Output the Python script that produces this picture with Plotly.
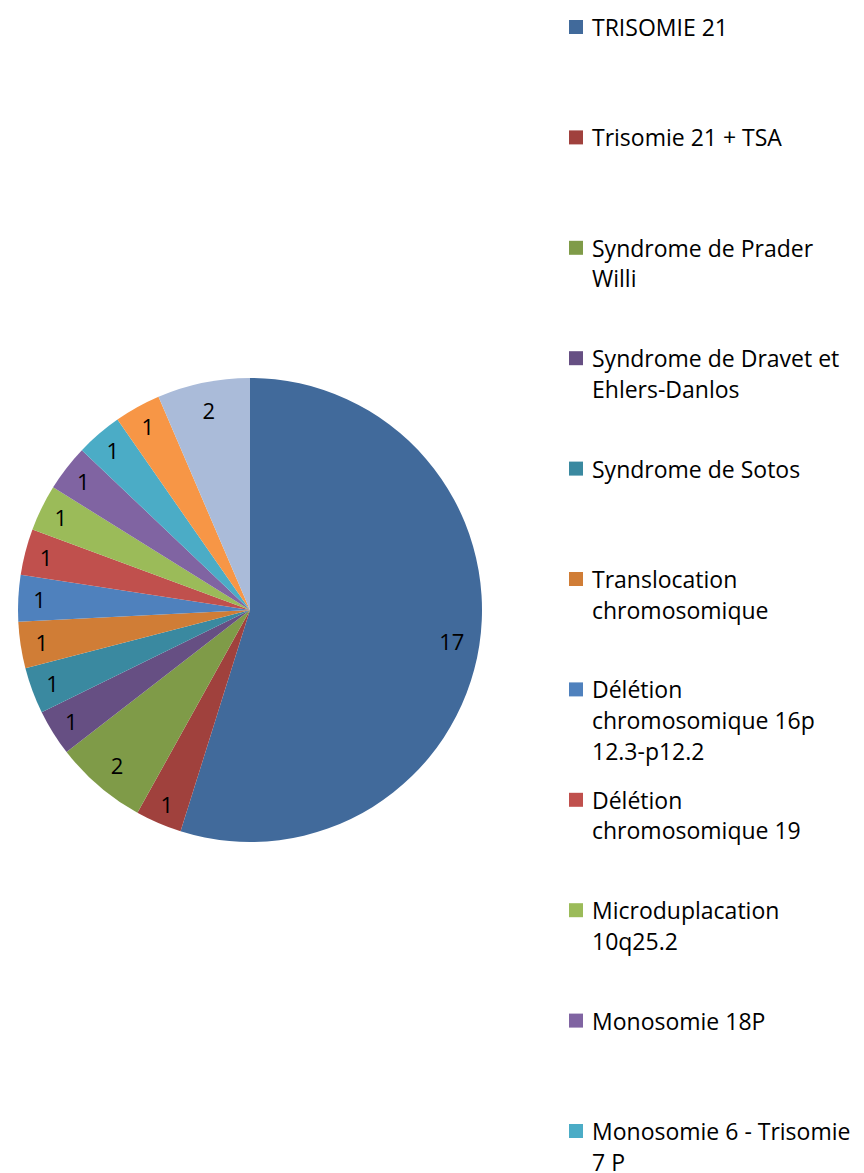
import plotly.graph_objects as go

labels = [
    "TRISOMIE 21",
    "Trisomie 21 + TSA",
    "Syndrome de Prader Willi",
    "Syndrome de Dravet et Ehlers-Danlos",
    "Syndrome de Sotos",
    "Translocation chromosomique",
    "Délétion chromosomique 16p 12.3-p12.2",
    "Délétion chromosomique 19",
    "Microduplacation 10q25.2",
    "Monosomie 18P",
    "Monosomie 6 - Trisomie 7 P",
    "Autre anomalie",
    "Non précisé",
]
legend_lines = [
    ["TRISOMIE 21"],
    ["Trisomie 21 + TSA"],
    ["Syndrome de Prader", "Willi"],
    ["Syndrome de Dravet et", "Ehlers-Danlos"],
    ["Syndrome de Sotos"],
    ["Translocation", "chromosomique"],
    ["Délétion", "chromosomique 16p", "12.3-p12.2"],
    ["Délétion", "chromosomique 19"],
    ["Microduplacation", "10q25.2"],
    ["Monosomie 18P"],
    ["Monosomie 6 - Trisomie", "7 P"],
    ["Autre anomalie"],
    ["Non précisé"],
]
values = [17, 1, 2, 1, 1, 1, 1, 1, 1, 1, 1, 1, 2]
colors = [
    "#416A9B", "#A0413D", "#7F9B48", "#664F83", "#3A89A0", "#D07D36",
    "#4F81BD", "#C0504D", "#9BBB59", "#8064A2", "#4BACC6", "#F79646", "#AABBD9",
]

W, H = 864, 1173
OFF = 8  # page body margin
FONT = "'Open Sans', Lato, sans-serif"

cx, cy, r = 250 - OFF, 610 - OFF, 232
dom_x = [(cx - r) / W, (cx + r) / W]
dom_y = [1 - (cy + r) / H, 1 - (cy - r) / H]

fig = go.Figure()
fig.add_trace(go.Pie(
    labels=labels, values=values, sort=False, direction="clockwise", rotation=0,
    marker=dict(colors=colors, line=dict(width=0)),
    textinfo="none", showlegend=False, domain=dict(x=dom_x, y=dom_y),
    hoverinfo="label+value",
))
# transparent ring carrying the value labels near the outer edge
fig.add_trace(go.Pie(
    labels=labels, values=values, sort=False, direction="clockwise", rotation=0,
    hole=0.76,
    marker=dict(colors=["rgba(0,0,0,0)"] * len(values), line=dict(width=0)),
    textinfo="value", textposition="inside", insidetextorientation="horizontal",
    textfont=dict(family=FONT, size=22, color="#000000"),
    showlegend=False, domain=dict(x=dom_x, y=dom_y), hoverinfo="skip",
))

# legend drawn as squares + text
leg_x_sq = 569 - OFF
leg_x_txt = 590 - OFF
leg_y0 = 27 - OFF
leg_step = 110.4
line_step = 30.6
sq = 14
annotations = []
shapes = []
for i, lines in enumerate(legend_lines):
    yc = leg_y0 + i * leg_step
    shapes.append(dict(
        type="rect", xref="paper", yref="paper",
        x0=leg_x_sq / W, x1=(leg_x_sq + sq) / W,
        y0=1 - (yc + sq / 2) / H, y1=1 - (yc - sq / 2) / H,
        fillcolor=colors[i], line=dict(width=0),
    ))
    for j, t in enumerate(lines):
        annotations.append(dict(
            text=t, xref="paper", yref="paper",
            x=leg_x_txt / W, y=1 - (yc + j * line_step) / H,
            xanchor="left", yanchor="middle", showarrow=False,
            font=dict(family=FONT, size=23, color="#000000"),
        ))

fig.update_layout(
    width=W, height=H,
    margin=dict(l=0, r=0, t=0, b=0),
    paper_bgcolor="white", plot_bgcolor="white",
    annotations=annotations, shapes=shapes,
    showlegend=False,
)
fig.write_html("out.html")
